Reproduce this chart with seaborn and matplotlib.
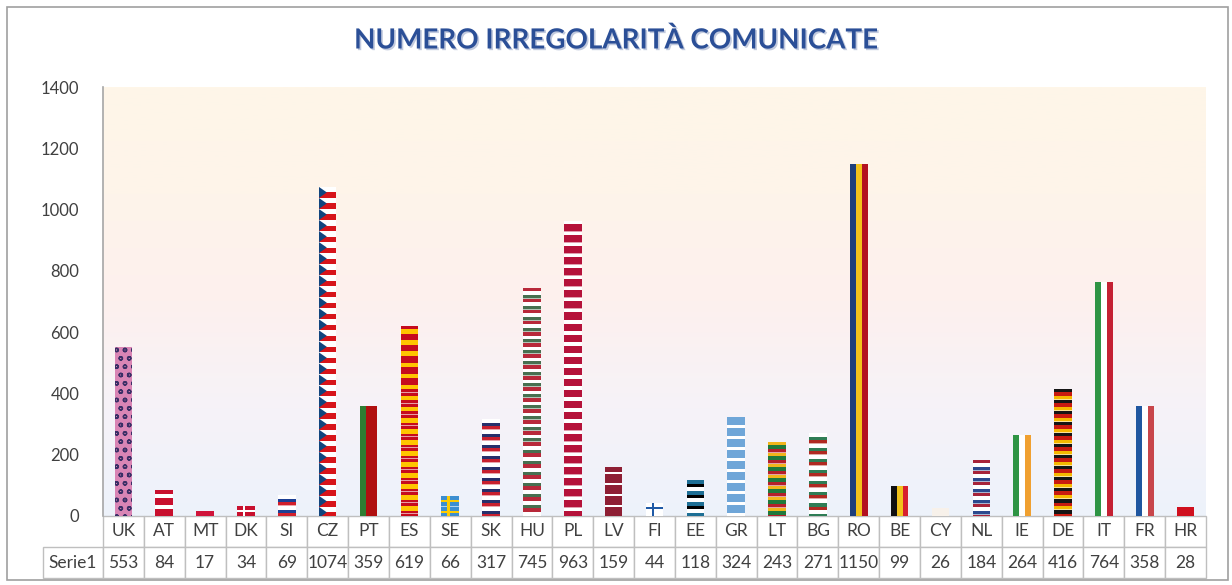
import matplotlib
matplotlib.use('Agg')
import matplotlib.pyplot as plt
import matplotlib.patheffects as pe
import numpy as np
import seaborn as sns
from matplotlib.colors import LinearSegmentedColormap
from matplotlib.patches import Rectangle, Polygon
from matplotlib.table import Table


# Data
countries = ['UK', 'AT', 'MT', 'DK', 'SI', 'CZ', 'PT', 'ES', 'SE', 'SK', 'HU',
             'PL', 'LV', 'FI', 'EE', 'GR', 'LT', 'BG', 'RO', 'BE', 'CY', 'NL',
             'IE', 'DE', 'IT', 'FR', 'HR']
values = [553, 84, 17, 34, 69, 1074, 359, 619, 66, 317, 745, 963, 159, 44,
          118, 324, 243, 271, 1150, 99, 26, 184, 264, 416, 764, 358, 28]
series_name = 'Serie1'
title = 'NUMERO IRREGOLARITÀ COMUNICATE'
yticks = [0, 200, 400, 600, 800, 1000, 1200, 1400]

# Flag fills: 'h' = tiled horizontal bands, 'v' = vertical bands
FLAGS = {
    'UK': ('hatch', ['#D985B5'], None),
    'AT': ('h', ['#C8102E', 'white', '#C8102E'], None),
    'MT': ('h', ['#D0143A'], None),
    'DK': ('h', ['#C8102E', 'white', '#C8102E'], [0.42, 0.16, 0.42]),
    'SI': ('h', ['white', '#1C3F94', '#D11F2B'], None),
    'CZ': ('cz', ['white', '#D7141A', '#11457E'], None),
    'PT': ('v', ['#2E7D32', '#B01010'], [0.38, 0.62]),
    'ES': ('h', ['#C60B1E', '#FFC400', '#C60B1E'], [0.28, 0.44, 0.28]),
    'SE': ('h', ['#3C8FD0', '#FECC00', '#3C8FD0'], [0.42, 0.16, 0.42]),
    'SK': ('h', ['white', '#27306B', '#C8202E'], None),
    'HU': ('h', ['#B8293A', 'white', '#477050'], None),
    'PL': ('h', ['white', '#B5123A'], [0.3, 0.7]),
    'LV': ('h', ['#8E1F34', 'white', '#8E1F34'], [0.42, 0.16, 0.42]),
    'FI': ('h', ['white', '#1F5AA6', 'white'], [0.42, 0.16, 0.42]),
    'EE': ('h', ['#1E6F95', 'black', 'white'], None),
    'GR': ('h', ['#6FA6D8', 'white'], [0.75, 0.25]),
    'LT': ('h', ['#F1B51C', '#1F7A3C', '#B5202B'], None),
    'BG': ('h', ['white', '#2F7D55', '#B02A22'], None),
    'RO': ('v', ['#1E3F7A', '#F2C21B', '#B31220'], None),
    'BE': ('v', ['#111111', '#F2C21B', '#D7202E'], None),
    'CY': ('h', ['#F7F1EA', '#EDD2B2'], [0.7, 0.3]),
    'NL': ('h', ['#A7243A', 'white', '#2C4A8E'], None),
    'IE': ('v', ['#2E9444', 'white', '#F0A030'], None),
    'DE': ('h', ['#151515', '#C81A10', '#F5B800'], None),
    'IT': ('v', ['#2E9444', 'white', '#C42033'], None),
    'FR': ('v', ['#1F56A0', 'white', '#C8464B'], None),
    'HR': ('h', ['#D0101E'], None),
}
CROSS = {'DK': 0.33, 'SE': 0.33, 'FI': 0.33}
TILE = 36  # height of one flag tile in data units


def fill_flag(ax, bar, name):
    kind, colours, fracs = FLAGS[name]
    x0, w, h = bar.get_x(), bar.get_width(), bar.get_height()
    if fracs is None:
        fracs = [1.0 / len(colours)] * len(colours)
    if kind == 'hatch':
        bar.set_facecolor(colours[0])
        bar.set_hatch('oo')
        bar.set_edgecolor('#3A2F66')
        bar.set_linewidth(0)
        return
    bar.set_facecolor(colours[0])
    bar.set_edgecolor('none')
    pieces = []
    if kind == 'v':
        x = x0
        for c, f in zip(colours, fracs):
            pieces.append(Rectangle((x, 0), w * f, h, color=c, lw=0))
            x += w * f
    else:
        n = int(np.ceil(h / TILE))
        for i in range(n):
            top = h - i * TILE
            if kind == 'cz':
                pieces.append(Rectangle((x0, top - TILE), w, TILE / 2,
                                        color=colours[1], lw=0))
                pieces.append(Rectangle((x0, top - TILE / 2), w, TILE / 2,
                                        color=colours[0], lw=0))
                pieces.append(Polygon([(x0, top), (x0 + w * 0.45, top - TILE / 2),
                                       (x0, top - TILE)], color=colours[2], lw=0))
                continue
            y = top
            for c, f in zip(colours, fracs):
                pieces.append(Rectangle((x0, y - TILE * f), w, TILE * f,
                                        color=c, lw=0))
                y -= TILE * f
            # thin white gap between tiles
            pieces.append(Rectangle((x0, top - TILE), w, TILE * 0.06,
                                    color='white', lw=0, alpha=0.6))
        if name in CROSS:
            cross_col = colours[1]
            pieces.append(Rectangle((x0 + w * CROSS[name], 0), w * 0.14, h,
                                    color=cross_col, lw=0))
    for p in pieces:
        p.set_zorder(bar.get_zorder() + 0.1)
        ax.add_patch(p)
        p.set_clip_path(bar)


sns.set_theme(style='white')
plt.rcParams['font.family'] = ['Lato', 'DejaVu Sans']

fig = plt.figure(figsize=(12.32, 5.85), dpi=100)
fig.patch.set_facecolor('white')
W, H = 1232, 585
left, right, top, zero = 103, 1206, 87, 516
ax = fig.add_axes([left / W, 1 - zero / H, (right - left) / W, (zero - top) / H])

# Gradient background of the plot area
grad = LinearSegmentedColormap.from_list(
    'bg', ['#EDF2FB', '#F6F3F8', '#FDF0EE', '#FEF4EA', '#FEF6E8'])
ax.imshow(np.linspace(0, 1, 256).reshape(-1, 1), cmap=grad, origin='lower',
          extent=[-0.5, len(countries) - 0.5, 0, 1400], aspect='auto',
          zorder=0)

sns.barplot(x=countries, y=values, hue=countries, palette=['#888888'] * len(countries),
            legend=False, width=0.43, saturation=1, ax=ax, zorder=2)
bars = list(ax.patches)
for bar, name in zip(bars, countries):
    fill_flag(ax, bar, name)

ax.set_xlim(-0.5, len(countries) - 0.5)
ax.set_ylim(0, 1400)
ax.set_yticks(yticks)
ax.set_yticklabels([str(t) for t in yticks])
ax.tick_params(axis='y', length=0, pad=17, labelsize=12, labelcolor='#404040')
ax.set_xticks([])
ax.set_xlabel('')
ax.set_ylabel('')
for s in ['top', 'right', 'bottom']:
    ax.spines[s].set_visible(False)
ax.spines['left'].set_color('#A6A6A6')
ax.spines['left'].set_linewidth(1.2)

# Data table under the chart (bbox covers the value columns only,
# the row-label column sits to its left)
label_w = 60 / (right - left)
row_h = 31 / (zero - top)
tb = Table(ax, bbox=[0, -2 * row_h, 1, 2 * row_h])
cw = 1.0 / len(countries)
for j, (c, v) in enumerate(zip(countries, values)):
    tb.add_cell(0, j, cw, row_h, text=c, loc='center')
    tb.add_cell(1, j, cw, row_h, text=str(v), loc='center')
tb.add_cell(1, -1, label_w, row_h, text=series_name, loc='center')
tb.auto_set_font_size(False)
tb.set_fontsize(12.5)
for cell in tb.get_celld().values():
    cell.set_edgecolor('#BFBFBF')
    cell.set_linewidth(1.0)
    cell.set_facecolor('white')
    cell.get_text().set_color('#404040')
    cell.PAD = 0.02
ax.add_table(tb)

# Title
fig.text(0.5, 1 - 40 / H, title, ha='center', va='center', fontsize=20,
         fontweight='bold', color='#2B4F97',
         path_effects=[pe.withSimplePatchShadow(offset=(1.2, -1.2),
                                                shadow_rgbFace='#9AA8C8',
                                                alpha=0.6)])

# Outer frame
fig.patches.append(Rectangle((7 / W, 5 / H), 1221 / W, 573 / H,
                             transform=fig.transFigure, fill=False,
                             edgecolor='#A0A0A0', lw=1.2))

plt.savefig('out.png', dpi=100)
